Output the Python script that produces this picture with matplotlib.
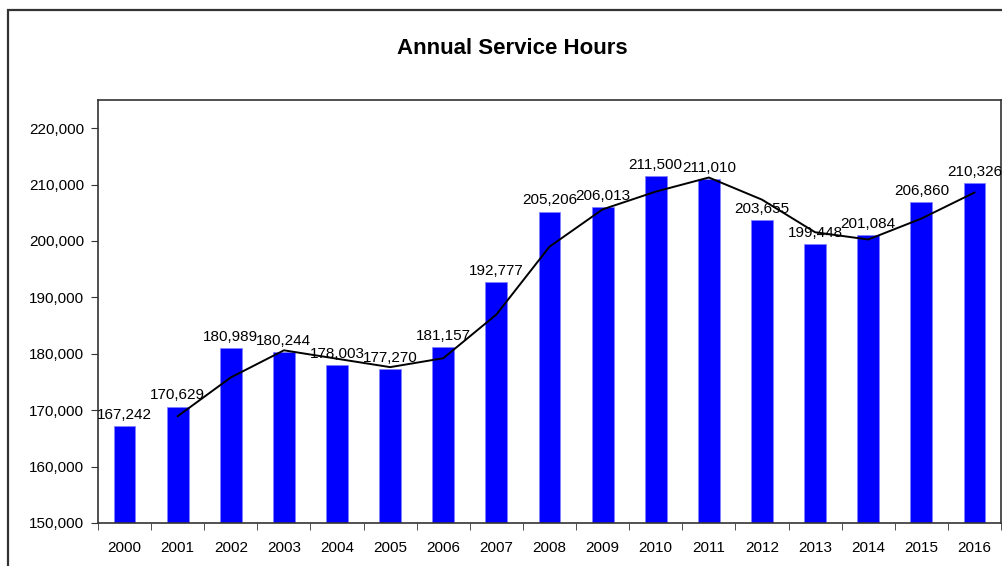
import numpy as np
import matplotlib
matplotlib.use("Agg")
import matplotlib.pyplot as plt
from matplotlib.patches import Rectangle
from matplotlib.ticker import FuncFormatter

plt.rcParams['font.family'] = ['Liberation Sans', 'DejaVu Sans']

# ---------------- Data ----------------
years = [2000, 2001, 2002, 2003, 2004, 2005, 2006, 2007, 2008,
         2009, 2010, 2011, 2012, 2013, 2014, 2015, 2016]
hours = [167242, 170629, 180989, 180244, 178003, 177270, 181157, 192777, 205206,
         206013, 211500, 211010, 203655, 199448, 201084, 206860, 210326]
title = "Annual Service Hours"

# 2-period moving average trendline (as in the source spreadsheet)
x = np.arange(len(years))
h = np.array(hours, float)
ma = (h[1:] + h[:-1]) / 2.0
x_ma = x[1:]

# ---------------- Plot ----------------
fig = plt.figure(figsize=(10.02, 5.66), dpi=100)
fig.patches.append(Rectangle((8/1002, -0.1), 1.2, 1.1 - 10/566, transform=fig.transFigure,
                             fill=False, ec='#333333', lw=1.6))

ax = fig.add_axes([98/1002, 43/566, 903/1002, 423/566])
ax.bar(x, hours, width=0.41, color='#0000ff', edgecolor='#8080ff', lw=0.5, zorder=2)
ax.plot(x_ma, ma, color='black', lw=1.4, zorder=3)

for xi, v in zip(x, hours):
    ax.annotate(f"{v:,}", (xi, v), xytext=(0, 3), textcoords='offset points',
                ha='center', va='bottom', fontsize=11, zorder=4)

ax.set_xlim(-0.5, len(years) - 0.5)
ax.set_ylim(150000, 225000)
ax.set_yticks(np.arange(150000, 220001, 10000))
ax.yaxis.set_major_formatter(FuncFormatter(lambda v, p: f"{int(v):,}"))
ax.set_xticks(x)
ax.set_xticklabels([str(y) for y in years])
ax.set_xticks(np.arange(-0.5, len(years), 1), minor=True)
ax.tick_params(axis='x', which='major', length=0, pad=13, labelsize=11)
ax.tick_params(axis='x', which='minor', length=5, direction='out', color='#333333')
ax.tick_params(axis='y', length=5, direction='out', labelsize=11, pad=5, color='#333333')
for s in ax.spines.values():
    s.set_color('#333333')
    s.set_linewidth(1.2)

fig.text(0.511, 1 - 48/566, title, ha='center', va='center',
         fontsize=16, fontweight='bold')

fig.savefig("out.png", dpi=100)
